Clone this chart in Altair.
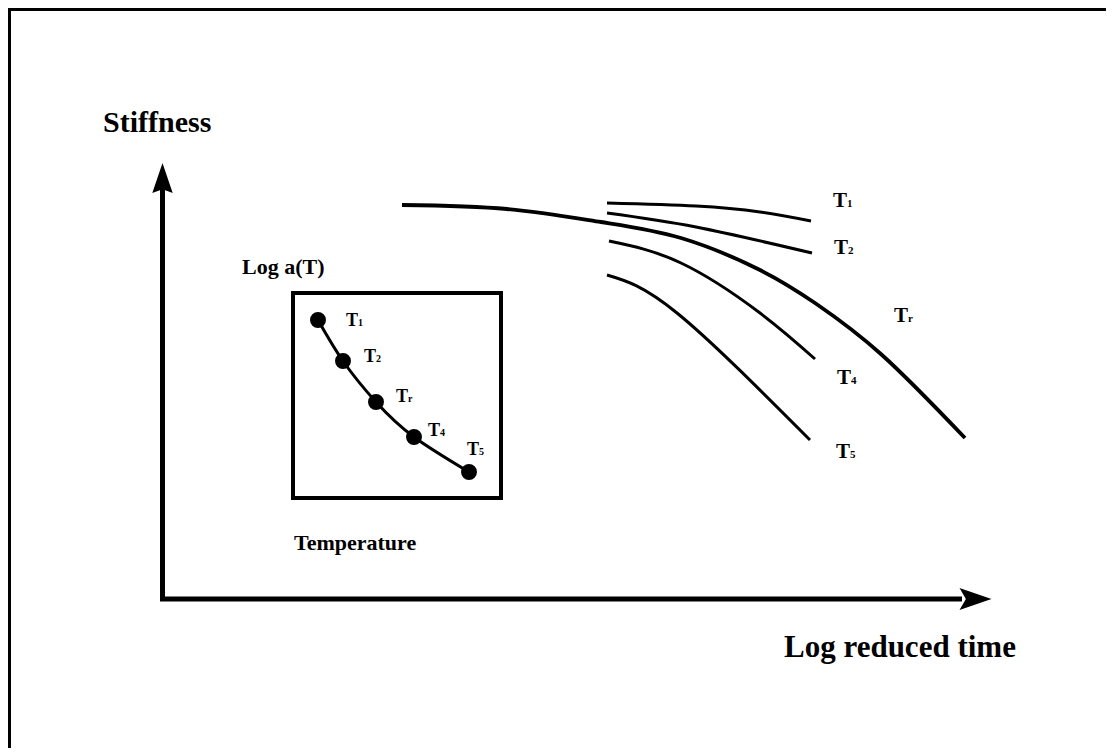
import altair as alt
import pandas as pd

# ---- data (schematic coordinates: x = log reduced time, y = stiffness, drawn downward) ----
t1_x = [607, 696, 760, 811]
t1_y = [203, 206, 212, 221]
t2_x = [607, 696, 812]
t2_y = [213, 227, 253]
tr_x = [402, 507, 601, 681, 760, 815, 882, 965]
tr_y = [205, 209, 222, 238, 270, 303, 355, 438]
t4_x = [609, 681, 760, 815]
t4_y = [241, 263, 313, 359]
t5_x = [607, 677, 810]
t5_y = [275, 313, 440]

curve_subs = ["1", "2", "r", "4", "5"]
curve_lab_x = [833, 834, 894, 837, 836]
curve_lab_y = [207, 254, 322, 384, 458]

# inset: log a(T) vs temperature
inset_x = [318, 343, 376, 414, 469]
inset_y = [320, 361, 402, 437, 472]
inset_lab_x = [346, 364, 396, 428, 467]
inset_lab_y = [326, 362, 402, 436, 455]
inset_box = [293, 293, 501, 498]  # x1, y1, x2, y2

# axes (corner and ends)
axis_x = [162.5, 162.5, 962]
axis_y = [188, 599, 599]
arrow_up = [162.5, 178]
arrow_right = [975.5, 599]

frame_x = [9, 9, 1106]
frame_y = [748, 9, 9]

texts = ["Stiffness", "Log reduced time", "Log a(T)", "Temperature"]
text_x = [103, 784, 242, 294]
text_y = [132, 657, 274, 550]
text_size = [30, 31, 22, 22]

# ---- tables ----
W, H = 1098, 740
xs = alt.Scale(domain=[8, 8 + W], nice=False, zero=False)
ys = alt.Scale(domain=[8, 8 + H], nice=False, zero=False, reverse=True)
X = lambda f="x": alt.X(f"{f}:Q", scale=xs, axis=None)
Y = lambda f="y": alt.Y(f"{f}:Q", scale=ys, axis=None)

rows = []
for name, cx, cy in [("T1", t1_x, t1_y), ("T2", t2_x, t2_y), ("T4", t4_x, t4_y), ("T5", t5_x, t5_y)]:
    for i, (a, b) in enumerate(zip(cx, cy)):
        rows.append({"curve": name, "x": a, "y": b, "o": i})
curves = pd.DataFrame(rows)
master = pd.DataFrame({"x": tr_x, "y": tr_y, "o": range(len(tr_x))})
clabels = pd.DataFrame({"x": curve_lab_x, "y": curve_lab_y, "base": "T", "sub": curve_subs})
inset = pd.DataFrame({"x": inset_x, "y": inset_y, "o": range(len(inset_x))})
ilabels = pd.DataFrame({"x": inset_lab_x, "y": inset_lab_y, "base": "T", "sub": curve_subs})
box = pd.DataFrame({"x": [inset_box[0]], "y": [inset_box[1]], "x2": [inset_box[2]], "y2": [inset_box[3]]})
axes = pd.DataFrame({"x": axis_x, "y": axis_y, "o": range(3)})
frame = pd.DataFrame({"x": frame_x, "y": frame_y, "o": range(3)})
aup = pd.DataFrame({"x": [arrow_up[0]], "y": [arrow_up[1]]})
aright = pd.DataFrame({"x": [arrow_right[0]], "y": [arrow_right[1]]})
tdf = pd.DataFrame({"x": text_x, "y": text_y, "t": texts, "s": text_size})

FONT = "Liberation Serif"

frame_l = alt.Chart(frame).mark_line(color="black", strokeWidth=4, strokeJoin="miter").encode(
    x=X(), y=Y(), order="o:Q")

axes_l = alt.Chart(axes).mark_line(color="black", strokeWidth=5, strokeJoin="miter", strokeCap="butt").encode(
    x=X(), y=Y(), order="o:Q")

up_l = alt.Chart(aup).mark_point(
    shape="M0,-1 L0.68,1 L0,0.75 L-0.68,1 Z", size=900, filled=True, color="black", opacity=1, strokeWidth=0
).encode(x=X(), y=Y())
right_l = alt.Chart(aright).mark_point(
    shape="M1,0 L-1,-0.69 L-0.6,0 L-1,0.69 Z", size=1024, filled=True, color="black", opacity=1, strokeWidth=0
).encode(x=X(), y=Y())

curves_l = alt.Chart(curves).mark_line(color="black", strokeWidth=3, interpolate="natural").encode(
    x=X(), y=Y(), detail="curve:N", order="o:Q")
master_l = alt.Chart(master).mark_line(color="black", strokeWidth=3.8, interpolate="natural").encode(
    x=X(), y=Y(), order="o:Q")

clab_base = alt.Chart(clabels).mark_text(font=FONT, fontWeight="bold", fontSize=21, align="left",
                                          baseline="alphabetic", color="black").encode(x=X(), y=Y(), text="base:N")
clab_sub = alt.Chart(clabels).mark_text(font=FONT, fontWeight="bold", fontSize=11, align="left",
                                         baseline="alphabetic", dx=14, color="black").encode(x=X(), y=Y(), text="sub:N")

box_l = alt.Chart(box).mark_rect(fill=None, fillOpacity=0, stroke="black", strokeWidth=4).encode(
    x=X("x"), x2="x2:Q", y=Y("y"), y2="y2:Q")

inset_line = alt.Chart(inset).mark_line(color="black", strokeWidth=3, interpolate="natural").encode(
    x=X(), y=Y(), order="o:Q")
inset_pts = alt.Chart(inset).mark_point(shape="circle", filled=True, size=254, color="black", opacity=1).encode(
    x=X(), y=Y())

ilab_base = alt.Chart(ilabels).mark_text(font=FONT, fontWeight="bold", fontSize=18, align="left",
                                          baseline="alphabetic", color="black").encode(x=X(), y=Y(), text="base:N")
ilab_sub = alt.Chart(ilabels).mark_text(font=FONT, fontWeight="bold", fontSize=10, align="left",
                                         baseline="alphabetic", dx=12, color="black").encode(x=X(), y=Y(), text="sub:N")

text_l = alt.Chart(tdf).mark_text(font=FONT, fontWeight="bold", align="left", baseline="alphabetic",
                                  color="black").encode(
    x=X(), y=Y(), text="t:N", size=alt.Size("s:Q", scale=None, legend=None))

chart = alt.layer(
    frame_l, axes_l, up_l, right_l, curves_l, master_l, clab_base, clab_sub,
    box_l, inset_line, inset_pts, ilab_base, ilab_sub, text_l
).properties(
    width=W, height=H, padding=0, autosize=alt.AutoSizeParams(type="none"), background="white"
).configure_view(stroke=None)

chart.save("out.html", embed_options={"renderer": "svg", "actions": False})
